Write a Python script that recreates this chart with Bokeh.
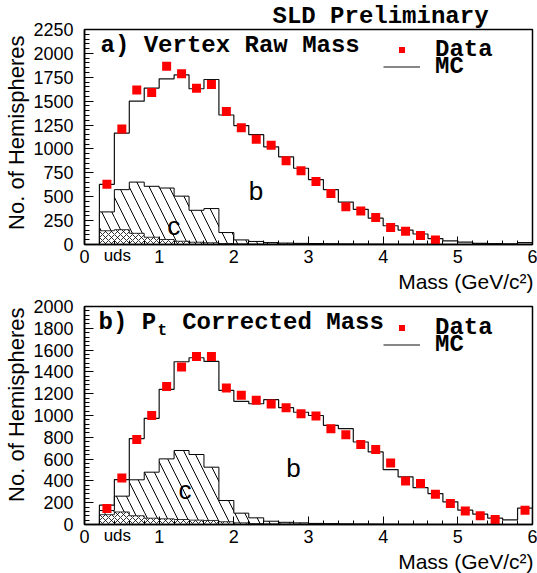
import math
from bokeh.plotting import figure
from bokeh.layouts import column
from bokeh.models import (Label, FixedTicker, Range1d, Legend, LegendItem,
                          LinearAxis, Title)
from bokeh.embed import file_html
from bokeh.resources import INLINE

nan = float("nan")

# ---------------- data ----------------
bin_edges = [round(0.2 + 0.2 * i, 1) for i in range(30)]      # 0.2 ... 6.0
bin_centers = [round(0.3 + 0.2 * i, 1) for i in range(29)]    # 0.3 ... 5.9

# a) Vertex Raw Mass
a_data = [630, 1210, 1617, 1590, 1865, 1786, 1634, 1675, 1393, 1221,
          1101, 1039, 877, 771, 660, 533, 396, 351, 282, 179,
          138, 93, 48, nan, nan, nan, nan, nan, nan]
a_mc = [630, 1166, 1500, 1637, 1734, 1775, 1630, 1727, 1355, 1245,
        1149, 1022, 918, 798, 678, 575, 444, 368, 275, 196,
        151, 110, 62, 38, 24, 12, 10, 8, 20]
a_c = [341, 574, 653, 609, 591, 506, 358, 376, 125, 48,
       32, 20, 15, 12, 10, 8, 6, 5, 4, 3,
       2, 2, 1, 1, 1, 0, 0, 0, 0]
a_uds = [144, 155, 117, 76, 52, 34, 24, 18, 10, 6,
         4, 3, 2, 2, 1, 1, 1, 0, 0, 0,
         0, 0, 0, 0, 0, 0, 0, 0, 0]

# b) Pt Corrected Mass
b_data = [147, 427, 779, 1001, 1267, 1444, 1542, 1542, 1252, 1185,
          1139, 1105, 1072, 1017, 995, 879, 824, 733, 687, 565,
          400, 376, 278, 192, 125, 81, 46, nan, 130]
b_mc = [177, 412, 788, 974, 1240, 1493, 1530, 1496, 1230, 1130,
        1108, 1145, 1072, 1030, 1000, 910, 879, 757, 666, 504,
        437, 339, 284, 208, 131, 95, 58, 43, 150]
b_c = [128, 260, 410, 480, 602, 679, 642, 526, 220, 104,
       61, 30, 20, 15, 10, 8, 6, 5, 4, 3,
       2, 2, 1, 1, 0, 0, 0, 0, 0]
b_uds = [90, 115, 80, 58, 52, 46, 40, 37, 25, 15,
         8, 5, 3, 2, 1, 1, 0, 0, 0, 0,
         0, 0, 0, 0, 0, 0, 0, 0, 0]

x_ticks = [0, 1, 2, 3, 4, 5, 6]
uds_tick = [0.44]
uds_text = {0.44: "uds"}
a_y_ticks = [0, 250, 500, 750, 1000, 1250, 1500, 1750, 2000, 2250]
b_y_ticks = [0, 200, 400, 600, 800, 1000, 1200, 1400, 1600, 1800, 2000]

SANS = "Liberation Sans"
MONO = "Liberation Mono"
W = 537
FRAME_L, FRAME_W, FRAME_H = 84, 448, 218


def step_xy(edges, vals):
    xs, ys = [edges[0]], [0]
    for i, v in enumerate(vals):
        xs += [edges[i], edges[i + 1]]
        ys += [v, v]
    xs.append(edges[-1])
    ys.append(0)
    return xs, ys


def panel(height, top_border, page_top, ymax, yticks, yminor,
          data, mc, cc, uds, ylab_offset):
    p = figure(width=W, height=height, x_range=Range1d(0, 6), y_range=Range1d(0, ymax),
               output_backend="svg", toolbar_location=None,
               min_border_left=FRAME_L, min_border_right=W - FRAME_L - FRAME_W,
               min_border_top=top_border, min_border_bottom=height - top_border - FRAME_H)
    p.background_fill_color = "white"
    p.border_fill_color = "white"
    p.outline_line_color = "black"
    p.outline_line_width = 1.5
    p.grid.visible = False

    xa = p.xaxis[0]
    xa.ticker = FixedTicker(ticks=x_ticks, minor_ticks=[round(0.2 * i, 1) for i in range(31)])
    xa.major_tick_in = 8
    xa.minor_tick_in = 4
    xa.major_tick_out = 0
    xa.minor_tick_out = 0
    xa.axis_line_width = 1.5
    xa.axis_line_color = "black"
    xa.major_label_text_font = SANS
    xa.major_label_text_font_size = "18px"
    xa.major_label_text_color = "black"
    xa.major_label_standoff = 5

    # the "uds" mark under the first bin, pulled up into the row of tick labels
    xu = LinearAxis(ticker=FixedTicker(ticks=uds_tick, minor_ticks=[]),
                    major_label_overrides=uds_text,
                    axis_line_color=None, major_tick_line_color=None,
                    minor_tick_line_color=None, major_tick_in=0, major_tick_out=0,
                    major_label_standoff=-20, major_label_text_font=SANS,
                    major_label_text_font_size="17px", major_label_text_color="black")
    p.add_layout(xu, "below")

    ya = p.yaxis[0]
    ya.ticker = FixedTicker(ticks=yticks,
                            minor_ticks=[yminor * i for i in range(int(ymax / yminor) + 1)])
    ya.major_tick_in = 9
    ya.minor_tick_in = 5
    ya.major_tick_out = 0
    ya.minor_tick_out = 0
    ya.axis_line_width = 1.5
    ya.axis_line_color = "black"
    ya.major_label_text_font = SANS
    ya.major_label_text_font_size = "18px"
    ya.major_label_text_color = "black"
    ya.major_label_standoff = 11

    p.add_layout(Title(text="No. of Hemispheres", align="right", offset=ylab_offset,
                       standoff=3, text_font=SANS, text_font_size="22px",
                       text_font_style="normal", text_color="black"), "left")
    p.add_layout(Title(text="Mass (GeV/c²)", align="right", offset=-1,
                       standoff=0, text_font=SANS, text_font_size="21px",
                       text_font_style="normal", text_color="black"), "below")

    # stacked components: uds (cross hatch), c (diagonal hatch)
    p.quad(left=bin_edges[:-1], right=bin_edges[1:], bottom=uds, top=cc,
           fill_color=None, line_color=None, hatch_pattern="\\",
           hatch_color="black", hatch_scale=20, hatch_weight=1)
    p.quad(left=bin_edges[:-1], right=bin_edges[1:], bottom=0, top=uds,
           fill_color=None, line_color=None, hatch_pattern="x",
           hatch_color="black", hatch_scale=6, hatch_weight=0.8)
    xs, ys = step_xy(bin_edges, uds)
    p.line(xs, ys, line_color="black", line_width=0.8)
    xs, ys = step_xy(bin_edges, cc)
    p.line(xs, ys, line_color="black", line_width=1)
    xs, ys = step_xy(bin_edges, mc)
    r_mc = p.line(xs, ys, line_color="#111111", line_width=1.2)
    r_data = p.scatter(bin_centers, data, marker="square", size=9,
                       fill_color="#ff0000", line_color=None)

    page_bottom = page_top + FRAME_H

    def X(px):
        return (px - FRAME_L) / FRAME_W * 6

    def Y(py):
        return (page_bottom - py) / FRAME_H * ymax

    def legend_row(label, renderer, center_py):
        # a legend row is ~27px tall; location = its bottom-left, from the frame's bottom-left
        loc = (383 - FRAME_L, round(page_bottom - center_py - 13.5))
        p.add_layout(Legend(items=[LegendItem(label=label, renderers=[renderer])],
                            location=loc, label_text_font=MONO,
                            label_text_font_style="bold", label_text_font_size="24px",
                            label_text_color="black", glyph_width=37, glyph_height=15,
                            label_standoff=15, padding=0, margin=0,
                            border_line_alpha=0, background_fill_alpha=0))

    def lab(text, px, py, font=SANS, size="18px", style="normal", align="left"):
        p.add_layout(Label(x=X(px), y=Y(py), text=text, text_font=font,
                           text_font_size=size, text_font_style=style,
                           text_align=align, text_baseline="alphabetic",
                           text_color="black"))

    return p, lab, (lambda c1, c2: (legend_row("Data", r_data, c1), legend_row("MC", r_mc, c2)))


# ---------------- panel a ----------------
p1, lab1, leg1 = panel(295, 26, 26, 2250, a_y_ticks, 50, a_data, a_mc, a_c, a_uds, 6)
p1.add_layout(Title(text="SLD Preliminary", align="left", offset=188, standoff=0,
                    text_font=MONO, text_font_size="24px", text_font_style="bold",
                    text_color="black"), "above")
leg1(49.5, 66)
lab1("a) Vertex Raw Mass", 100, 42.7, font=MONO, size="24px", style="bold")
lab1("b", 255.5, 190, size="26px", align="center")
lab1("c", 173.3, 225, size="26px", align="center")

# ---------------- panel b ----------------
p2, lab2, leg2 = panel(278, 11, 306, 2000, b_y_ticks, 40, b_data, b_mc, b_c, b_uds, 1)
leg2(327.5, 345)
lab2("b) P", 98, 321.7, font=MONO, size="24px", style="bold")
lab2("t", 157, 330, font=MONO, size="16px", style="bold")
lab2("Corrected Mass", 181.7, 321.7, font=MONO, size="24px", style="bold")
lab2("b", 293, 467.3, size="26px", align="center")
lab2("c", 184.5, 489, size="26px", align="center")

layout = column(p1, p2, spacing=0)
open("out.html", "w").write(file_html(layout, INLINE))
